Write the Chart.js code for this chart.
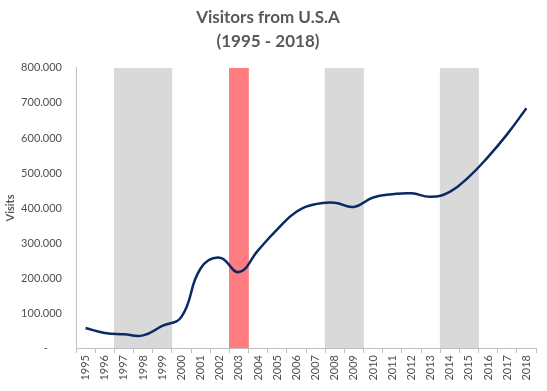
<!DOCTYPE html>
<html>
<head>
<meta charset="utf-8">
<script src="https://cdn.jsdelivr.net/npm/chart.js@4.4.0/dist/chart.umd.min.js"></script>
<style>
  html, body { margin: 0; padding: 0; background: #fff; }
  #wrap { width: 547px; height: 391px; }
</style>
</head>
<body>
<div id="wrap"><canvas id="myChart" width="547" height="391"></canvas></div>
<script>
"use strict";

// data
const years = ["1995","1996","1997","1998","1999","2000","2001","2002","2003","2004","2005","2006",
               "2007","2008","2009","2010","2011","2012","2013","2014","2015","2016","2017","2018"];
const visitors = [57000, 43000, 39000, 36000, 63000, 89000, 227000, 258000, 217000, 279000, 339000, 389000,
                  411000, 415000, 403000, 430000, 439000, 442000, 432000, 446000, 489000, 546000, 611000, 685000];
const greyYears = ["1997","1998","1999","2008","2009","2014","2015"];
const redYears = ["2003"];
const yTicks = [0, 100000, 200000, 300000, 400000, 500000, 600000, 700000, 800000];

const yMax = 800000;
const textColor = "#595959";
const fontFamily = "Lato, 'Open Sans', sans-serif";

let bandValues = [];
let bandColors = [];
for (let i = 0; i < years.length; i++) {
    if (redYears.indexOf(years[i]) >= 0) {
        bandValues.push(yMax);
        bandColors.push("#FF7C80");
    } else if (greyYears.indexOf(years[i]) >= 0) {
        bandValues.push(yMax);
        bandColors.push("#D9D9D9");
    } else {
        bandValues.push(null);
        bandColors.push("rgba(0,0,0,0)");
    }
}

function formatVisits(v) {
    if (v === 0) return "-     ";
    return (v / 1000) + ".000";
}

let myChart = new Chart(document.getElementById("myChart"), {
    type: "bar",
    data: {
        labels: years,
        datasets: [
            {
                type: "line",
                label: "Visitors",
                data: visitors,
                borderColor: "#0B2A63",
                borderWidth: 2.5,
                pointRadius: 0,
                tension: 0.45,
                fill: false,
                order: 0
            },
            {
                type: "bar",
                label: "bands",
                data: bandValues,
                backgroundColor: bandColors,
                borderWidth: 0,
                barPercentage: 1,
                categoryPercentage: 1,
                order: 1
            }
        ]
    },
    options: {
        responsive: false,
        animation: false,
        layout: { padding: { left: 0, right: 11, top: 0, bottom: 0 } },
        plugins: {
            legend: { display: false },
            tooltip: { enabled: false },
            title: {
                display: true,
                text: ["Visitors from U.S.A", "(1995 - 2018)"],
                color: textColor,
                font: { family: fontFamily, size: 17, weight: "bold", lineHeight: 1.41 },
                padding: { top: 6, bottom: 14 }
            }
        },
        scales: {
            x: {
                offset: true,
                grid: {
                    display: true,
                    offset: true,
                    drawOnChartArea: false,
                    drawTicks: true,
                    tickLength: 5,
                    color: "#BFBFBF"
                },
                border: { display: true, color: "#BFBFBF", width: 1 },
                ticks: {
                    color: "#505050",
                    font: { family: fontFamily, size: 11 },
                    minRotation: 90,
                    maxRotation: 90,
                    autoSkip: false,
                    padding: 2
                },
                afterFit: function (scale) { scale.height = 43; }
            },
            y: {
                min: 0,
                max: yMax,
                afterBuildTicks: function (scale) {
                    scale.ticks = yTicks.map(function (v) { return { value: v }; });
                },
                grid: { display: false, drawTicks: false },
                border: { display: true, color: "#BFBFBF", width: 1 },
                ticks: {
                    color: "#505050",
                    font: { family: fontFamily, size: 11 },
                    padding: 14,
                    callback: function (v) { return formatVisits(v); }
                },
                title: {
                    display: true,
                    text: "Visits",
                    color: textColor,
                    font: { family: fontFamily, size: 11, weight: "bold" },
                    padding: { top: 4, bottom: 0 }
                },
                afterFit: function (scale) { scale.width = 76; }
            }
        }
    }
});
</script>
</body>
</html>
